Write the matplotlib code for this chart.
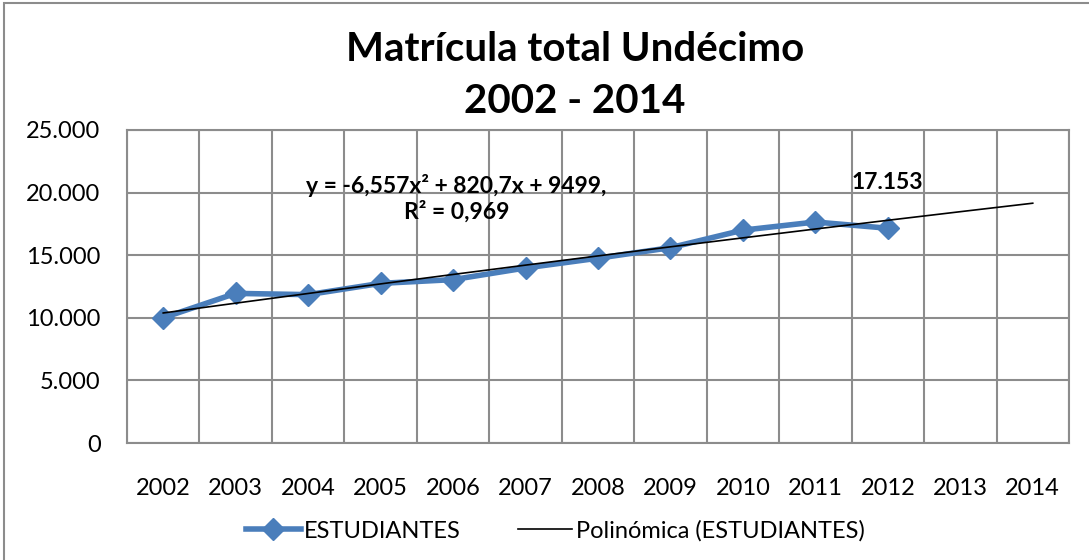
import matplotlib
matplotlib.use("Agg")
import matplotlib.pyplot as plt
from matplotlib.patches import Rectangle
from matplotlib.ticker import FuncFormatter
import numpy as np

# data
years = ["2002", "2003", "2004", "2005", "2006", "2007", "2008",
         "2009", "2010", "2011", "2012", "2013", "2014"]
estudiantes = [10000, 11950, 11850, 12750, 13050, 13980, 14760,
               15600, 17000, 17650, 17153]
equation_text = "y = -6,557x² + 820,7x + 9499,\nR² = 0,969"
last_label = "17.153"

plt.rcParams['font.family'] = ['Lato', 'DejaVu Sans']

fig = plt.figure(figsize=(10.89, 5.6), dpi=100)
ax = fig.add_axes([0.1166, 0.2089, 0.8650, 0.5590])

# outer chart border
fig.patches.append(Rectangle((0.004, -0.01), 1.2, 1.0045, transform=fig.transFigure,
                             fill=False, edgecolor="#8c8c8c", linewidth=1.5))

blue = "#4a7ebb"
xs = np.arange(len(estudiantes))
ax.plot(xs, estudiantes, color=blue, linewidth=4, marker="D", markersize=11,
        label="ESTUDIANTES", zorder=3)

# polynomial trendline (order 2), like Excel, extended to 2014
coef = np.polyfit(xs + 1, estudiantes, 2)
xt = np.arange(len(years))
ax.plot(xt, np.polyval(coef, xt + 1), color="black", linewidth=1.2,
        label="Polinómica (ESTUDIANTES)", zorder=4)

ax.set_xlim(-0.5, len(years) - 0.5)
ax.set_ylim(0, 25000)
ax.set_yticks(np.arange(0, 25001, 5000))
ax.yaxis.set_major_formatter(FuncFormatter(lambda v, p: f"{int(v):,}".replace(",", ".")))
ax.set_xticks(xt)
ax.set_xticklabels(years)
ax.set_xticks(np.arange(-0.5, len(years), 1), minor=True)
ax.tick_params(axis="x", which="both", length=0, labelsize=17, pad=25)
ax.tick_params(axis="y", length=0, labelsize=17, pad=19)
ax.grid(True, axis="y", which="major", color="#8c8c8c", linewidth=1.5)
ax.grid(True, axis="x", which="minor", color="#8c8c8c", linewidth=1.5)
for s in ax.spines.values():
    s.set_color("#8c8c8c")
    s.set_linewidth(1.5)

ax.text(4.05, 19550, equation_text, ha="center", va="center", fontsize=16.5,
        fontweight="bold", linespacing=1.15)
ax.annotate(last_label, (10, estudiantes[-1]), xytext=(0, 33), textcoords="offset points",
            ha="center", va="center", fontsize=16.5, fontweight="bold")

fig.suptitle("Matrícula total Undécimo\n2002 - 2014", x=0.528, y=0.945, fontsize=29,
             fontweight="bold", linespacing=1.5)

fig.legend(loc="center", bbox_to_anchor=(0.51, 0.052), ncol=2, frameon=False,
           fontsize=17, handlelength=2.3, columnspacing=2.4, handletextpad=0.15)

fig.savefig("out.png", dpi=100)
